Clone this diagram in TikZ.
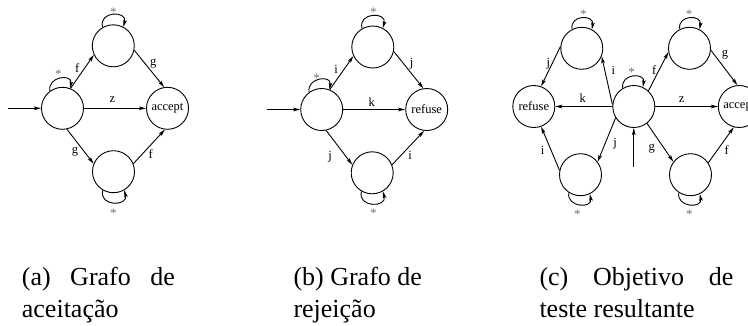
\documentclass[tikz,border=0pt]{standalone}
\usepackage{fontspec}
\setmainfont{Liberation Serif}
\usetikzlibrary{arrows.meta}
\tikzset{
  state/.style={circle, draw, line width=0.9pt, minimum size=42pt, inner sep=0pt,
                font=\fontsize{12.5}{14}\selectfont},
  edge/.style={line width=0.9pt, -{Stealth[length=7pt,width=3.6pt,inset=1.5pt]}},
  lbl/.style={inner sep=0pt, font=\fontsize{12.5}{14}\selectfont},
  star/.style={inner sep=0pt, text=black!55, yshift=-1.8pt, font=\fontsize{13}{14}\selectfont},
  capt/.style={inner sep=0pt, anchor=base west, font=\fontsize{26}{32}\selectfont},
}
\begin{document}
\begin{tikzpicture}[x=1pt,y=-1pt]
\clip (0,0) rectangle (748,325);

% ---------- (a) acceptance graph ----------
\node[state] (Sa) at (62.5,108.3) {};
\node[state] (Ta) at (113.3,45.8) {};
\node[state] (Aa) at (167.5,108.3) {accept};
\node[state] (Ba) at (113.5,171.7) {};
\coordinate (ina) at (8,108.3);

\draw[edge] (ina) -- (Sa.west);
\draw[edge] (Sa.68) -- (Ta.205);
\draw[edge] (Ta.348) -- (Aa.99);
\draw[edge] (Sa.east) -- (Aa.west);
\draw[edge] (Sa.282) -- (Ba.158);
\draw[edge] (Ba.22) -- (Aa.263);
\draw[edge] (Ta.120) .. controls +(105:17pt) and +(75:17pt) .. (Ta.62);
\draw[edge] (Sa.126) .. controls +(100:15pt) and +(80:15pt) .. (Sa.69);
\draw[edge] (Ba.240) .. controls +(255:17pt) and +(285:17pt) .. (Ba.300);

\node[lbl] (la1) at (77.3,67.7) {f};
\node[lbl] (la2) at (153.3,63.3) {g};
\node[lbl] (la3) at (112.3,100) {z};
\node[lbl] (la4) at (75,151.7) {g};
\node[lbl] (la5) at (150.7,154) {f};
\node[star] (sa1) at (113.3,10) {*};
\node[star] (sa2) at (58.3,72.7) {*};
\node[star] (sa3) at (113.3,211.7) {*};

% ---------- (b) refusal graph ----------
\node[state] (Sb) at (321.7,109.5) {};
\node[state] (Tb) at (372.8,47) {};
\node[state] (Rb) at (426.7,109.5) {refuse};
\node[state] (Bb) at (372.2,172.8) {};
\coordinate (inb) at (266.7,109.5);

\draw[edge] (inb) -- (Sb.west);
\draw[edge] (Sb.68) -- (Tb.205);
\draw[edge] (Tb.348) -- (Rb.99);
\draw[edge] (Sb.east) -- (Rb.west);
\draw[edge] (Sb.282) -- (Bb.158);
\draw[edge] (Bb.22) -- (Rb.263);
\draw[edge] (Tb.120) .. controls +(105:17pt) and +(75:17pt) .. (Tb.62);
\draw[edge] (Sb.126) .. controls +(100:15pt) and +(80:15pt) .. (Sb.69);
\draw[edge] (Bb.240) .. controls +(255:17pt) and +(285:17pt) .. (Bb.300);

\node[lbl] (lb1) at (336,69.3) {i};
\node[lbl] (lb2) at (411.7,63.3) {j};
\node[lbl] (lb3) at (371.7,101.7) {k};
\node[lbl] (lb4) at (330,156.7) {j};
\node[lbl] (lb5) at (410,155) {i};
\node[star] (sb1) at (373.3,10) {*};
\node[star] (sb2) at (316.7,76) {*};
\node[star] (sb3) at (373.3,211.7) {*};

% ---------- (c) resulting test purpose ----------
\node[state] (C)   at (633.8,106.5) {};
\node[state] (TL)  at (581.8,48.3) {};
\node[state] (TR)  at (689.5,48.3) {};
\node[state] (Rc)  at (533.8,106.5) {refuse};
\node[state] (Ac)  at (739.3,106.5) {accept};
\node[state] (BL)  at (580.5,174.7) {};
\node[state] (BR)  at (690.5,174.7) {};
\coordinate (inc) at (633.8,167);

\draw[edge] (inc) -- (C.south);
\draw[edge] (C.175) -- (TL.338);
\draw[edge] (TL.175) -- (Rc.70);
\draw[edge] (C.west) -- (Rc.east);
\draw[edge] (C.212) -- (BL.37);
\draw[edge] (BL.168) -- (Rc.290);
\draw[edge] (C.47) -- (TR.190);
\draw[edge] (TR.355) -- (Ac.95);
\draw[edge] (C.east) -- (Ac.west);
\draw[edge] (C.308) -- (BR.143);
\draw[edge] (BR.34) -- (Ac.255);
\draw[edge] (TL.117) .. controls +(100:15pt) and +(80:15pt) .. (TL.62);
\draw[edge] (TR.117) .. controls +(100:15pt) and +(80:15pt) .. (TR.62);
\draw[edge] (C.121) .. controls +(100:15pt) and +(80:15pt) .. (C.65);
\draw[edge] (BL.237) .. controls +(260:15pt) and +(280:15pt) .. (BL.296);
\draw[edge] (BR.237) .. controls +(260:15pt) and +(280:15pt) .. (BR.296);

\node[lbl] (lc1) at (548.3,63.3) {j};
\node[lbl] (lc2) at (613.3,70.7) {i};
\node[lbl] (lc3) at (654.3,70) {f};
\node[lbl] (lc4) at (725,55) {g};
\node[lbl] (lc5) at (582.7,97.7) {k};
\node[lbl] (lc6) at (681.7,99.3) {z};
\node[lbl] (lc7) at (615,143.3) {j};
\node[lbl] (lc8) at (542.7,150) {i};
\node[lbl] (lc9) at (651.7,148.3) {g};
\node[lbl] (lc10) at (726.7,150) {f};
\node[star] (sc1) at (583.3,12.7) {*};
\node[star] (sc2) at (689,12.7) {*};
\node[star] (sc3) at (631.7,70) {*};
\node[star] (sc4) at (577.3,212.7) {*};
\node[star] (sc5) at (689.3,212.7) {*};

% ---------- captions ----------
\node[capt] (ca1) at (21.7,285) {\makebox[153pt][s]{(a) Grafo de}};
\node[capt] (ca2) at (21.7,317.3) {aceitação};
\node[capt] (cb1) at (293.3,285) {(b) Grafo de};
\node[capt] (cb2) at (293.3,317.3) {rejeição};
\node[capt] (cc1) at (539.3,285) {\makebox[194pt][s]{(c) Objetivo de}};
\node[capt] (cc2) at (539.3,317.3) {teste resultante};
\end{tikzpicture}
\end{document}
